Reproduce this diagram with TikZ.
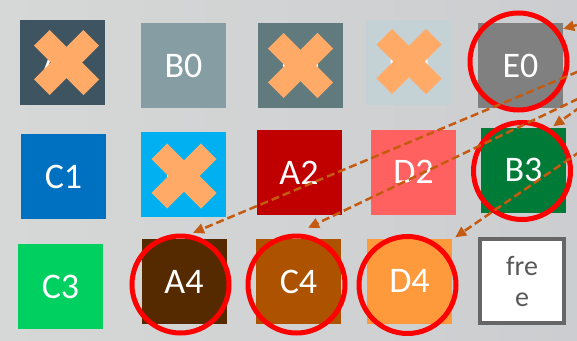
\documentclass[tikz,border=0pt]{standalone}
\usepackage{fontspec}
\setmainfont{Carlito}
\usetikzlibrary{arrows.meta}

\definecolor{bgleft}{HTML}{D6D8D7}
\definecolor{bgright}{HTML}{CCCDD0}
\definecolor{tA0}{HTML}{3E5460}
\definecolor{tB0}{HTML}{879DA4}
\definecolor{tC0}{HTML}{617A7E}
\definecolor{tD0}{HTML}{C5D2D5}
\definecolor{tE0}{HTML}{808080}
\definecolor{tC1}{HTML}{0070C0}
\definecolor{tB1}{HTML}{00B0F0}
\definecolor{tA2}{HTML}{C00000}
\definecolor{tD2}{HTML}{FF6161}
\definecolor{tB3}{HTML}{007A37}
\definecolor{tC3}{HTML}{00D060}
\definecolor{tA4}{HTML}{552A00}
\definecolor{tC4}{HTML}{AD5300}
\definecolor{tD4}{HTML}{FF9A3C}
\definecolor{freegray}{HTML}{666666}
\definecolor{freetext}{HTML}{595959}
\definecolor{crossorange}{HTML}{FFAA66}
\definecolor{ringred}{HTML}{FF0000}
\definecolor{linkbrown}{HTML}{C55A11}

\begin{document}
\begin{tikzpicture}[x=1pt,y=-1pt,
  tile/.style={minimum width=85pt,minimum height=85pt,inner sep=0pt,
    text=white,font=\fontsize{36}{40}\selectfont},
  ring/.style={draw=ringred,line width=5pt},
  link/.style={draw=linkbrown,line width=2.5pt,dash pattern=on 8pt off 4pt,
    -{Triangle[length=11pt,width=10pt]}}]

% canvas and soft grey background
\path[use as bounding box,left color=bgleft,right color=bgright]
  (0,0) rectangle (577,340);
\clip (0,0) rectangle (577,340);

% slot tiles, row 1
\node[tile,fill=tA0] (A0) at (62,62.5) {A0};
\node[tile,fill=tB0] (B0) at (183.5,65.5) {B0};
\node[tile,fill=tC0] (C0) at (300.5,65.5) {C0};
\node[tile,fill=tD0] (D0) at (408.5,62.5) {D0};
\node[tile,fill=tE0] (E0) at (520.5,65.5) {E0};
% row 2
\node[tile,fill=tC1] (C1) at (63.5,176.5) {C1};
\node[tile,fill=tB1] (B1) at (183.5,174.5) {B1};
\node[tile,fill=tA2] (A2) at (299,172.5) {A2};
\node[tile,fill=tD2] (D2) at (413.5,172) {D2};
\node[tile,fill=tB3] (B3) at (523.5,170) {B3};
% row 3
\node[tile,fill=tC3] (C3) at (60.5,286.5) {C3};
\node[tile,fill=tA4] (A4) at (184,281.5) {A4};
\node[tile,fill=tC4] (C4) at (298.5,281.5) {C4};
\node[tile,fill=tD4] (D4) at (409.5,281) {D4};
\node[draw=freegray,line width=4pt,fill=white,minimum width=84pt,
  minimum height=84pt,inner sep=0pt,text=freetext,align=center,
  font=\fontsize{28}{31}\selectfont] (free) at (522,281) {fre\\e};

% crossed-out tiles
\foreach \t/\dx/\dy in {A0/4.5/0, C0/0/0, D0/0.5/-1, B1/0.5/1.5}{
  \coordinate (x\t) at ([xshift=\dx pt,yshift=-\dy pt]\t.center);
  \fill[crossorange,shift={(x\t)},rotate=45] (-35,-11) rectangle (35,11);
  \fill[crossorange,shift={(x\t)},rotate=-45] (-35,-11) rectangle (35,11);
}

% highlighted tiles
\draw[ring] ([xshift=-2pt,yshift=4pt]E0.center) circle[radius=48.5];
\draw[ring] ([xshift=-1.5pt,yshift=-1pt]B3.center) circle[radius=48.5];
\draw[ring] ([xshift=-3.5pt,yshift=-3pt]A4.center) circle[radius=48.5];
\draw[ring] ([xshift=-2pt,yshift=-3pt]C4.center) circle[radius=48.5];
\draw[ring] ([xshift=-2pt,yshift=-4pt]D4.center) circle[radius=48.5];

% moves coming in from the right
\coordinate (srcE0) at (600,18.6);
\coordinate (srcA4) at (600,62.4);
\coordinate (srcC4) at (600,88.3);
\coordinate (srcB3) at (600,93);
\coordinate (srcD4) at (600,137.8);
\draw[link] (srcE0) -- ([yshift=-6pt]E0.north east);
\draw[link] (srcB3) -- ([xshift=-13pt,yshift=1pt]B3.north east);
\draw[link] (srcA4) -- ([xshift=9pt,yshift=6pt]A4.north);
\draw[link] (srcC4) -- ([xshift=9.5pt,yshift=11pt]C4.north);
\draw[link] (srcD4) -- ([xshift=3pt,yshift=1pt]D4.north east);
\end{tikzpicture}
\end{document}
